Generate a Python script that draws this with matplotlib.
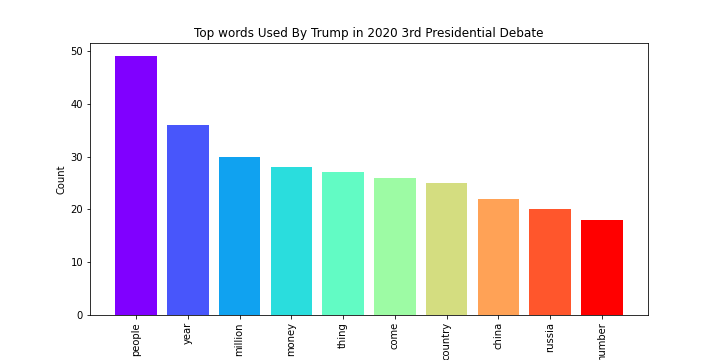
import matplotlib
matplotlib.use("Agg")
import matplotlib.pyplot as plt
import numpy as np

words = ["people", "year", "million", "money", "thing", "come", "country", "china", "russia", "number"]
counts = [49, 36, 30, 28, 27, 26, 25, 22, 20, 18]

colors = plt.cm.rainbow(np.linspace(0, 1, len(words)))

fig = plt.figure(figsize=(10, 5), dpi=72)
ax = fig.add_axes([0.125, 0.125, 0.775, 0.755])
ax.bar(words, counts, color=colors)
ax.set_ylabel("Count")
ax.set_title("Top words Used By Trump in 2020 3rd Presidential Debate")
plt.xticks(rotation=90)
fig.savefig("out.png", dpi=72)
